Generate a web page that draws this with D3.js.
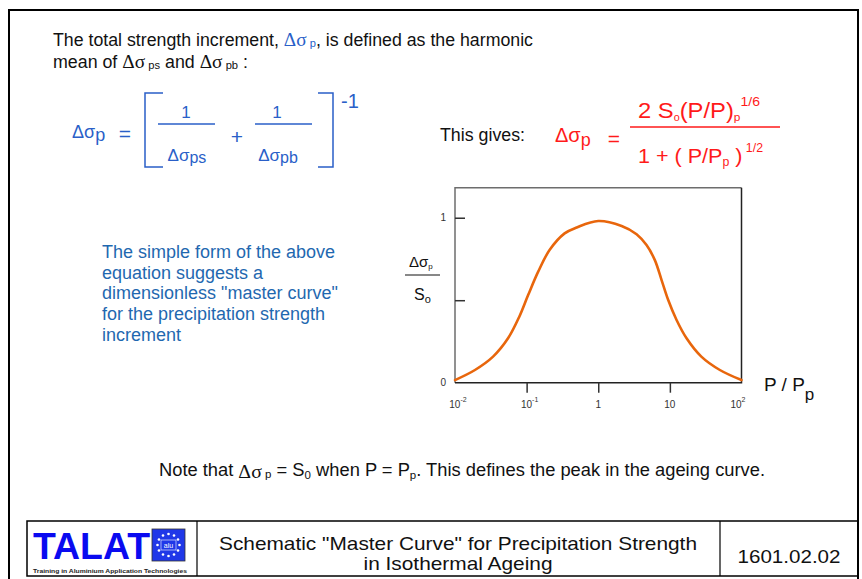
<!DOCTYPE html>
<html>
<head>
<meta charset="utf-8">
<script src="https://cdn.jsdelivr.net/npm/d3@7"></script>
<style>
  html, body { margin: 0; padding: 0; background: #fff; }
  svg { display: block; }
  text { font-family: "Liberation Sans", Arial, sans-serif; }
</style>
</head>
<body>
<svg id="page" width="862" height="579"></svg>
<script>
// Master curve: normalised strength increment vs. P/Pp (log scale)
const ratioP = [0.01, 0.019, 0.034, 0.055, 0.079, 0.105, 0.145, 0.209, 0.339, 0.501, 1,
                2.12, 3.43, 4.72, 6.17, 7.66, 9.48, 12.4, 17.1, 27.5, 49.9, 100];
const strengthRatio = [0.016, 0.077, 0.158, 0.269, 0.40, 0.531, 0.673, 0.804, 0.905, 0.941, 0.98,
                       0.95, 0.90, 0.834, 0.743, 0.622, 0.501, 0.38, 0.269, 0.158, 0.077, 0.016];
const xTickValues = [0.01, 0.1, 1, 10, 100];
const xTickBase = ["10", "10", "1", "10", "10"];
const xTickExp = ["-2", "-1", "", "", "2"];
const yTickValues = [0, 0.5, 1];
const yTickLabels = ["0", "", "1"];

const svg = d3.select("#page");
const BLUE = "#2a5fc8";
const PARA_BLUE = "#1f68b0";
const RED = "#ff1a1a";
const ORANGE = "#e8660c";

// page frame
svg.append("path").attr("d", "M9,579 V10 H858 V579").attr("fill", "none")
  .attr("stroke", "#000").attr("stroke-width", 2);

// helper: text made of runs {t, size, dy, fill, font}
function runs(x, y, parts, opts = {}) {
  const t = svg.append("text").attr("x", x).attr("y", y)
    .attr("font-size", opts.size || 15).attr("fill", opts.fill || "#111");
  if (opts.anchor) t.attr("text-anchor", opts.anchor);
  if (opts.width) t.attr("textLength", opts.width).attr("lengthAdjust", "spacingAndGlyphs");
  parts.forEach(p => {
    const s = t.append("tspan").text(p.t);
    if (p.size) s.attr("font-size", p.size);
    if (p.dy) s.attr("dy", p.dy);
    if (p.fill) s.attr("fill", p.fill);
    if (p.font) s.attr("font-family", p.font);
    if (p.dx) s.attr("dx", p.dx);
  });
  return t;
}
const SERIF = "'Liberation Serif', 'Times New Roman', serif";

// intro text
runs(53, 46, [
  {t: "The total strength increment, "},
  {t: "Δσ", fill: BLUE, font: SERIF, size: 19},
  {t: " p", fill: BLUE, size: 11, dy: 1},
  {t: ", is defined as the harmonic", dy: -1}
], {size: 17.5, width: 480});
runs(53, 68, [
  {t: "mean of "},
  {t: "Δσ", font: SERIF, size: 19},
  {t: " ps", size: 11, dy: 1},
  {t: " and ", dy: -1},
  {t: "Δσ", font: SERIF, size: 19},
  {t: " pb", size: 11, dy: 1},
  {t: " :", dy: -1}
], {size: 17.5, width: 195});

// harmonic mean formula (blue)
const f1 = svg.append("g").attr("fill", BLUE);
runs(72, 138, [{t: "Δσ"}, {t: "p", size: 18, dy: 3}], {size: 18, fill: BLUE});
f1.append("text").attr("x", 125).attr("y", 141).attr("text-anchor", "middle").attr("font-size", 21).text("=");
f1.append("path").attr("d", "M163,93 H145 V167 H163 M318,93 H333 V167 H318")
  .attr("fill", "none").attr("stroke", BLUE).attr("stroke-width", 1.5);
f1.append("text").attr("x", 341).attr("y", 108).attr("font-size", 20).text("-1");
[[186, 158, 215, "ps"], [277, 255, 312, "pb"]].forEach(([cx, x0, x1, sub]) => {
  f1.append("text").attr("x", cx).attr("y", 118).attr("text-anchor", "middle").attr("font-size", 17).text("1");
  f1.append("line").attr("x1", x0).attr("x2", x1).attr("y1", 124).attr("y2", 124)
    .attr("stroke", BLUE).attr("stroke-width", 1.3);
  runs(cx + 1, 161, [{t: "Δσ"}, {t: sub, size: 16, dy: 2}], {size: 17, fill: BLUE, anchor: "middle"});
});
f1.append("text").attr("x", 237).attr("y", 144).attr("text-anchor", "middle").attr("font-size", 21).text("+");

// resulting expression (red)
svg.append("text").attr("x", 440).attr("y", 141).attr("font-size", 18).attr("fill", "#111")
  .attr("textLength", 85).attr("lengthAdjust", "spacingAndGlyphs").text("This gives:");
runs(555, 142, [{t: "Δσ"}, {t: "p", size: 18, dy: 4}], {size: 20, fill: RED});
svg.append("text").attr("x", 614).attr("y", 146).attr("text-anchor", "middle").attr("font-size", 21).attr("fill", RED).text("=");
svg.append("line").attr("x1", 630).attr("x2", 780).attr("y1", 127).attr("y2", 127)
  .attr("stroke", RED).attr("stroke-width", 1.3);
runs(638, 118, [
  {t: "2 S"}, {t: "o", size: 10, dy: 3}, {t: "(P/P)", dy: -3}, {t: "p", size: 11, dy: 3},
  {t: "1/6", size: 13, dy: -15}
], {size: 22, fill: RED, width: 122});
runs(638, 163, [
  {t: "1 + ( P/P"}, {t: "p", size: 12, dy: 3}, {t: " )", dy: -3}, {t: " 1/2", size: 12, dy: -11}
], {size: 21, fill: RED, width: 125});

// explanatory paragraph
["The simple form of the above", "equation suggests a", "dimensionless \"master curve\"",
 "for the precipitation strength", "increment"].forEach((line, i) => {
  svg.append("text").attr("x", 102).attr("y", 258 + i * 20.7).attr("font-size", 18)
    .attr("fill", PARA_BLUE).text(line);
});

// ---- chart ----
const x = d3.scaleLog().domain([0.01, 100]).range([455, 741.5]);
const y = d3.scaleLinear().domain([0, 1.182]).range([382.7, 187.7]);

const chart = svg.append("g");
// frame: left and top lighter, right and bottom dark
chart.append("path").attr("d", `M${x(0.01)},${y(0)} V${y(1.182)} H${x(100)}`)
  .attr("fill", "none").attr("stroke", "#6d6d6d").attr("stroke-width", 1.5);
chart.append("path").attr("d", `M${x(100)},${y(1.182)} V${y(0)} H${x(0.01)}`)
  .attr("fill", "none").attr("stroke", "#222").attr("stroke-width", 1.5);

// x ticks (downward, interior only)
chart.append("g").attr("transform", `translate(0,${y(0)})`)
  .call(d3.axisBottom(x).tickValues(xTickValues.slice(1, -1)).tickSize(10).tickFormat(""))
  .call(g => g.select(".domain").remove())
  .call(g => g.selectAll("line").attr("stroke", "#333").attr("stroke-width", 1.5));
xTickValues.forEach((v, i) => {
  const last = i === xTickValues.length - 1;
  const t = chart.append("text").attr("y", 408).attr("font-size", 10).attr("fill", "#333")
    .attr("text-anchor", last ? "end" : "middle")
    .attr("x", last ? x(v) + 4 : x(v) + (xTickExp[i] ? 3 : 0));
  t.append("tspan").text(xTickBase[i]);
  if (xTickExp[i]) t.append("tspan").attr("font-size", 7).attr("dy", -6).text(xTickExp[i]);
});

// y ticks (inward)
chart.append("g").attr("transform", `translate(${x(0.01)},0)`)
  .call(d3.axisRight(y).tickValues(yTickValues.slice(1)).tickSize(10).tickFormat(""))
  .call(g => g.select(".domain").remove())
  .call(g => g.selectAll("line").attr("stroke", "#333").attr("stroke-width", 1.5));
yTickValues.forEach((v, i) => {
  if (!yTickLabels[i]) return;
  chart.append("text").attr("x", 446).attr("y", y(v)).attr("dy", "0.35em")
    .attr("text-anchor", "end").attr("font-size", 10).attr("fill", "#333").text(yTickLabels[i]);
});

// axis titles
runs(409, 267, [{t: "Δσ"}, {t: "p", size: 8, dy: 2}], {size: 15, fill: "#111"});
chart.append("line").attr("x1", 405).attr("x2", 440).attr("y1", 275).attr("y2", 275)
  .attr("stroke", "#111").attr("stroke-width", 1);
runs(414, 300, [{t: "S"}, {t: "o", size: 11, dy: 3}], {size: 16, fill: "#111"});
runs(764, 391, [{t: "P / P"}, {t: "p", size: 17, dy: 9}], {size: 19, fill: "#111"});

// curve
chart.append("path")
  .datum(ratioP.map((p, i) => [p, strengthRatio[i]]))
  .attr("fill", "none").attr("stroke", ORANGE).attr("stroke-width", 2.6)
  .attr("stroke-linejoin", "round").attr("stroke-linecap", "round")
  .attr("d", d3.line().x(d => x(d[0])).y(d => y(d[1])).curve(d3.curveCatmullRom.alpha(0.5)));

// note
runs(159, 476, [
  {t: "Note that "},
  {t: "Δσ", font: SERIF, size: 19, dy: 2},
  {t: " p", size: 11, dy: 0},
  {t: " = S", dy: -2},
  {t: "0", size: 11, dy: 3},
  {t: " when P = P", dy: -3},
  {t: "p", size: 11, dy: 3},
  {t: ". This defines the peak in the ageing curve.", dy: -3}
], {size: 17.5, width: 606});

// ---- footer ----
const foot = svg.append("g");
foot.append("rect").attr("x", 27).attr("y", 521).attr("width", 831).attr("height", 55)
  .attr("fill", "none").attr("stroke", "#000").attr("stroke-width", 1.5);
foot.append("line").attr("x1", 197).attr("x2", 197).attr("y1", 521).attr("y2", 576).attr("stroke", "#000").attr("stroke-width", 1.2);
foot.append("line").attr("x1", 720).attr("x2", 720).attr("y1", 521).attr("y2", 576).attr("stroke", "#000").attr("stroke-width", 1.2);

foot.append("text").attr("x", 33).attr("y", 558.5).attr("font-size", 36).attr("font-weight", "bold")
  .attr("fill", "#0a0af0").attr("textLength", 117).attr("lengthAdjust", "spacingAndGlyphs").text("TALAT");
foot.append("rect").attr("x", 152).attr("y", 529).attr("width", 33).attr("height", 32)
  .attr("fill", "#2038e8").attr("stroke", "#333").attr("stroke-width", 0.8);
d3.range(12).forEach(k => {
  const a = k / 12 * 2 * Math.PI;
  foot.append("circle").attr("cx", 168.5 + 11 * Math.cos(a)).attr("cy", 545 + 11 * Math.sin(a))
    .attr("r", 1.3).attr("fill", "#fff");
});
foot.append("rect").attr("x", 161).attr("y", 540).attr("width", 15).attr("height", 10)
  .attr("fill", "#2038e8").attr("stroke", "#fff").attr("stroke-width", 0.6);
foot.append("text").attr("x", 168.5).attr("y", 548).attr("text-anchor", "middle").attr("font-size", 7)
  .attr("fill", "#fff").text("alu");
foot.append("text").attr("x", 33).attr("y", 572.5).attr("font-size", 6).attr("font-weight", "bold")
  .attr("fill", "#222").attr("textLength", 154).attr("lengthAdjust", "spacingAndGlyphs")
  .text("Training in Aluminium Application Technologies");

foot.append("text").attr("x", 458).attr("y", 550).attr("text-anchor", "middle").attr("font-size", 19)
  .attr("fill", "#111").attr("textLength", 478).attr("lengthAdjust", "spacingAndGlyphs")
  .text("Schematic \"Master Curve\" for Precipitation Strength");
foot.append("text").attr("x", 458).attr("y", 570).attr("text-anchor", "middle").attr("font-size", 19)
  .attr("fill", "#111").attr("textLength", 189).attr("lengthAdjust", "spacingAndGlyphs")
  .text("in Isothermal Ageing");
foot.append("text").attr("x", 789).attr("y", 563).attr("text-anchor", "middle").attr("font-size", 19)
  .attr("fill", "#111").attr("textLength", 103).attr("lengthAdjust", "spacingAndGlyphs")
  .text("1601.02.02");
</script>
</body>
</html>
